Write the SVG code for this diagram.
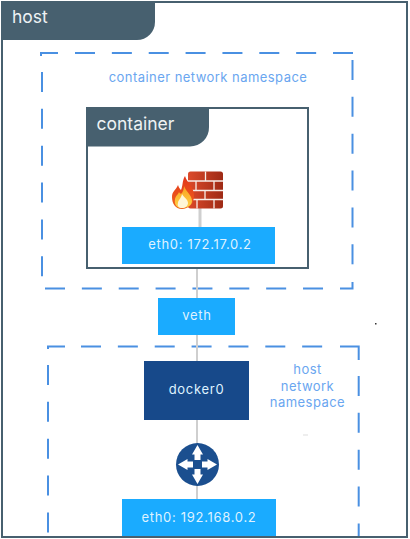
<svg xmlns="http://www.w3.org/2000/svg" width="410" height="539" viewBox="0 0 410 539">
<defs>
<style>
text{font-family:"Inter","Open Sans","Liberation Sans",sans-serif}
.tab{fill:#47606f}
.tabt{fill:#eef2f4;font-size:17.500px}
.ns{fill:none;stroke:#4a90e2;stroke-width:2;stroke-dasharray:20 16.860}
.nsp{fill:none;stroke:#4a90e2;stroke-width:2}
.lbl{fill:#6aa6f0;font-size:13px;letter-spacing:.45px;text-anchor:middle}
.w{fill:#dff2ff;font-size:13px;letter-spacing:.7px;text-anchor:middle}
.conn{stroke:#cfcfcf;stroke-width:2;fill:none}
.eth{fill:#1aabff}
.mortar{stroke:#f8eee9;stroke-width:1.300;fill:none}
.arrow{fill:#fff}
</style>
<linearGradient id="brick" x1="0" y1="0" x2="1" y2="0"><stop offset="0" stop-color="#dc4a2a"/><stop offset="1" stop-color="#9e2a15"/></linearGradient>
<linearGradient id="flame" x1="0" y1="0" x2="0" y2="1"><stop offset="0" stop-color="#e2351a"/><stop offset="1" stop-color="#f0651c"/></linearGradient>
<linearGradient id="flame2" x1="0" y1="0" x2="0" y2="1"><stop offset="0" stop-color="#f9a11f"/><stop offset="1" stop-color="#ffd24a"/></linearGradient>
</defs>
<rect width="410" height="539" fill="#fff"/>
<g id="host">
<rect x="2" y="2" width="405" height="535" fill="none" stroke="#47606f" stroke-width="2"/>
<path class="tab" d="M1 1H155V22A18 18 0 0 1 137 40H1Z"/>
<text class="tabt" x="12" y="23">host</text>
</g>
<g id="container-network-namespace">
<path class="nsp" d="M41 56V53H58"/>
<path class="ns" d="M75 53H353"/>
<path class="ns" d="M42 72V278"/>
<path class="ns" d="M45 288.500H327"/>
<path class="nsp" d="M340 288.500H352.500V282"/>
<path class="ns" d="M352.500 60V268"/>
<text class="lbl" x="208" y="82">container network namespace</text>
</g>
<g id="host-network-namespace">
<path class="nsp" d="M48 349V346.500H65"/>
<path class="ns" d="M81 346.500H325"/>
<path class="nsp" d="M340 346.500H358.700V360"/>
<path class="ns" d="M358.700 376V536"/>
<path class="ns" d="M48 365V536"/>
<text class="lbl" x="307.500" y="374">host</text>
<text class="lbl" x="307.500" y="390.500">network</text>
<text class="lbl" x="307.500" y="407">namespace</text>
</g>
<g id="connectors">
<path class="conn" d="M197 268V298M197 335V361M197 420V499"/>
<path class="conn" style="stroke-width:3" d="M200 208V227"/>
</g>
<g id="container">
<rect x="87" y="108" width="221" height="160" fill="none" stroke="#47606f" stroke-width="2"/>
<path class="tab" d="M86 107H209V127A19 19 0 0 1 190 146.500H86Z"/>
<text class="tabt" x="96.500" y="130">container</text>
</g>
<g id="firewall">
<rect x="188" y="171.500" width="35" height="37" rx="2.500" fill="url(#brick)"/>
<path class="mortar" d="M188 181H223M188 190.500H223M188 199.500H223M205.500 171.500V181M196 181V190.500M214 181V190.500M205 190.500V199.500M197 199.500V208.500M214 199.500V208.500"/>
<path d="M185 176C187 183 194 186 194 196C194 204 188 209 182 209C175 209 172 203 172 197C172 191 176 190 178 185C179 188 180 189 181 190C183 186 182 181 185 176Z" fill="url(#flame)"/>
<path d="M184 186C186 192 192 195 192 201C192 206 186 208 182 208C177 208 174 205 175 199C176 195 178 195 179 192C180 194 181 194 182 193C183 191 184 189 184 186Z" fill="url(#flame2)"/>
<path d="M182 194C184 198 188 199 188 203C188 206 185 208 182 208C179 208 177 206 178 203C178 200 181 199 182 194Z" fill="#fff6d8"/>
</g>
<g id="eth0-container">
<rect class="eth" x="122" y="227" width="153" height="37"/>
<text class="w" x="200" y="249">eth0: 172.17.0.2</text>
</g>
<g id="veth">
<rect class="eth" x="158" y="298" width="77" height="37"/>
<text class="w" x="197" y="320">veth</text>
</g>
<g id="docker0">
<rect x="144" y="361" width="105" height="59" fill="#17498a"/>
<text class="w" x="196.500" y="394">docker0</text>
</g>
<g id="router">
<circle cx="197.500" cy="464.500" r="21.500" fill="#1b4f8f"/>
<path class="arrow" d="M197.500 445L203 454.500H200.500V460H194.500V454.500H192Z"/>
<path class="arrow" d="M197.500 484L203 474.500H200.500V469H194.500V474.500H192Z"/>
<path class="arrow" d="M178 464.500L187.500 459V461.500H193V467.500H187.500V470Z"/>
<path class="arrow" d="M217 464.500L207.500 459V461.500H202V467.500H207.500V470Z"/>
</g>
<g id="eth0-host">
<rect class="eth" x="122" y="499" width="154" height="37"/>
<text class="w" x="199" y="521.500">eth0: 192.168.0.2</text>
</g>
<rect x="375" y="323" width="1.500" height="1.500" fill="#333"/>
<rect x="303" y="434.500" width="5" height="1" fill="#ddd"/>
</svg>
